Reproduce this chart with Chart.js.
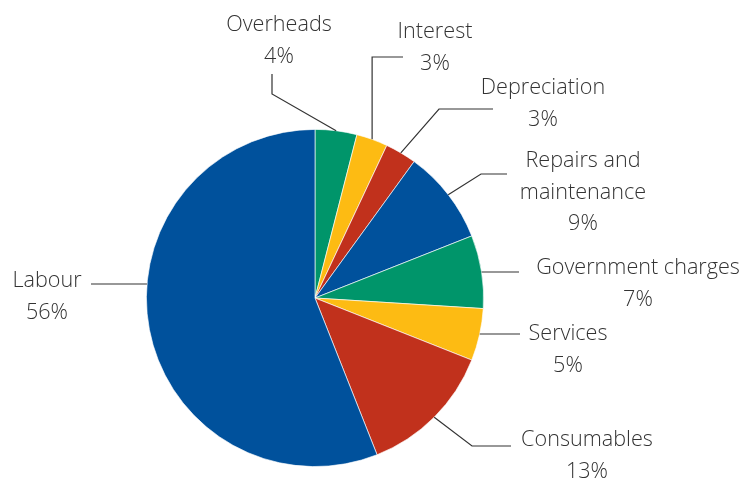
<!DOCTYPE html>
<html>
<head>
<meta charset="utf-8">
<script src="https://cdn.jsdelivr.net/npm/chart.js@4"></script>
<style>
  html, body { margin: 0; padding: 0; background: #fff; }
  #wrap { width: 746px; height: 484px; }
</style>
</head>
<body>
<div id="wrap"><canvas id="pie" width="746" height="484"></canvas></div>
<script>
// Cost breakdown, clockwise from 12 o'clock
const categories = ['Overheads', 'Interest', 'Depreciation', 'Repairs and maintenance',
  'Government charges', 'Services', 'Consumables', 'Labour'];
const shares = [4, 3, 3, 9, 7, 5, 13, 56];
const labelLines = [
  ['Overheads'], ['Interest'], ['Depreciation'], ['Repairs and', 'maintenance'],
  ['Government charges'], ['Services'], ['Consumables'], ['Labour']
];

const BLUE = '#00519c', GREEN = '#00956a', YELLOW = '#fdbb13', RED = '#c1311c';
const sliceColors = [GREEN, YELLOW, RED, BLUE, GREEN, YELLOW, RED, BLUE];

// where each callout sits: text centre of first line, elbow and end of the leader
// horizontal: leader runs flat at the label height into the pie
const callouts = [
  { tx: 279, ty: 25, elbow: [272, 94], end: [272, 74] },
  { tx: 435, ty: 32, elbow: [373, 57], end: [403, 57], vertical: true },
  { tx: 543, ty: 88, elbow: [439, 109], end: [493, 109] },
  { tx: 583, ty: 161, elbow: [481, 174], end: [507, 174] },
  { tx: 638, ty: 268, horizontal: 272, end: [519, 272] },
  { tx: 568, ty: 334, horizontal: 334, end: [520, 334] },
  { tx: 587, ty: 440, elbow: [472, 446], end: [511, 446] },
  { tx: 47, ty: 281, horizontal: 284, end: [91, 284] }
];

const calloutPlugin = {
  id: 'callouts',
  afterDraw(chart) {
    const ctx = chart.ctx;
    const arcs = chart.getDatasetMeta(0).data;
    ctx.save();
    ctx.strokeStyle = '#333';
    ctx.lineWidth = 1.2;
    ctx.fillStyle = '#333';
    ctx.font = '300 21.6px "Open Sans", "Noto Sans", sans-serif';
    ctx.textAlign = 'center';
    ctx.textBaseline = 'middle';
    arcs.forEach((arc, i) => {
      const c = callouts[i];
      const R = arc.outerRadius;
      let sx, sy;
      if (c.horizontal !== undefined) {
        sy = c.horizontal;
        const dy = sy - arc.y;
        const dx = Math.sqrt(Math.max(R * R - dy * dy, 0));
        sx = c.end[0] < arc.x ? arc.x - dx : arc.x + dx;
      } else {
        const mid = (arc.startAngle + arc.endAngle) / 2;
        sx = arc.x + R * Math.cos(mid);
        sy = arc.y + R * Math.sin(mid);
      }
      ctx.beginPath();
      ctx.moveTo(sx, sy);
      if (c.vertical) {
        ctx.lineTo(sx, c.elbow[1]);
      } else if (c.elbow) {
        ctx.lineTo(c.elbow[0], c.elbow[1]);
      }
      ctx.lineTo(c.end[0], c.end[1]);
      ctx.stroke();

      const lines = labelLines[i].concat([shares[i] + '%']);
      lines.forEach((t, k) => ctx.fillText(t, c.tx, c.ty + k * 31.5));
    });
    ctx.restore();
  }
};

new Chart(document.getElementById('pie'), {
  type: 'pie',
  data: {
    labels: categories,
    datasets: [{
      data: shares,
      backgroundColor: sliceColors,
      borderColor: 'rgba(255,255,255,0.8)',
      borderWidth: 0.8
    }]
  },
  options: {
    responsive: false,
    animation: false,
    layout: { padding: { top: 129, bottom: 17, left: 146, right: 262 } },
    plugins: {
      legend: { display: false },
      tooltip: { enabled: false }
    }
  },
  plugins: [calloutPlugin]
});
</script>
</body>
</html>
